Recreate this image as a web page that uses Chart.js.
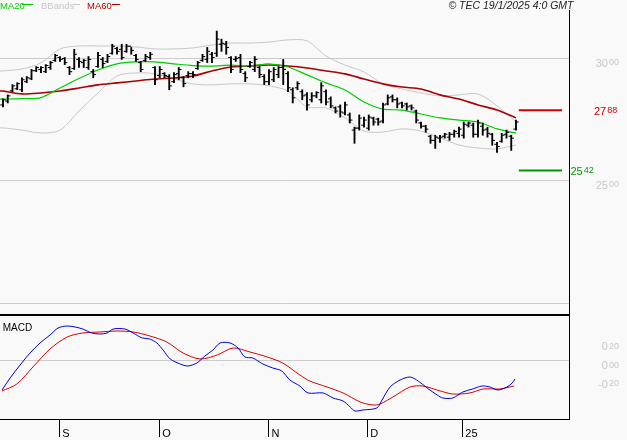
<!DOCTYPE html>
<html>
<head>
<meta charset="utf-8">
<script src="https://cdn.jsdelivr.net/npm/chart.js@4.4.1/dist/chart.umd.min.js"></script>
<style>
  html, body { margin: 0; padding: 0; background: #f9f9f9; }
  #wrap { position: relative; width: 627px; height: 440px; overflow: hidden; }
  #priceChart { position: absolute; left: 0; top: 0; }
  #macdChart { position: absolute; left: 0; top: 316px; }
</style>
</head>
<body>
<div id="wrap">
  <canvas id="priceChart" width="627" height="316"></canvas>
  <canvas id="macdChart" width="627" height="124"></canvas>
</div>
<script>
// daily bars, mid-Aug 2024 -> 17 Jan 2025 (one entry per session)
const openP = [28.10,28.26,28.68,28.76,28.72,29.05,29.17,29.50,29.55,29.46,
  29.63,29.92,30.04,30.00,29.63,29.59,29.96,29.83,29.63,29.46,
  29.67,29.96,29.88,30.21,30.41,30.37,30.29,30.50,30.12,29.83,
  29.92,30.04,29.63,29.30,29.38,29.26,29.05,29.38,29.21,29.30,
  29.38,29.59,29.92,29.96,30.17,30.21,30.58,30.58,30.04,29.96,
  30.04,29.38,29.67,29.55,29.63,29.26,29.05,29.13,29.34,29.63,
  29.38,28.72,28.80,28.64,28.51,28.31,28.47,28.31,28.64,28.35,
  27.98,28.02,27.77,27.69,27.07,27.15,27.27,27.15,27.56,27.52,
  27.44,28.14,28.43,28.31,28.18,28.14,28.06,27.85,27.36,27.23,
  26.82,26.65,26.74,26.82,26.78,26.90,26.94,26.86,27.27,27.27,
  26.90,27.23,27.11,26.90,26.49,26.61,26.90,26.82,27.11];
const highP = [28.35,28.51,28.93,29.01,29.21,29.26,29.55,29.67,29.67,29.75,
  29.88,30.17,30.08,30.04,29.67,30.37,30.04,29.96,30.08,29.55,
  30.25,30.04,30.17,30.58,30.45,30.58,30.58,30.45,30.17,29.88,
  30.17,30.25,29.67,29.67,29.42,29.34,29.42,29.63,29.26,29.46,
  29.46,29.88,30.17,30.45,30.25,31.12,30.79,30.70,30.08,30.08,
  30.17,29.46,29.88,30.08,29.67,29.34,29.55,29.63,29.67,29.96,
  29.46,28.80,29.05,28.72,28.60,28.60,28.64,29.01,28.72,28.43,
  28.02,28.10,28.22,27.77,27.19,27.69,27.60,27.69,27.60,27.56,
  28.18,28.51,28.51,28.39,28.22,28.18,28.10,27.89,27.40,27.27,
  26.86,26.86,26.86,26.94,26.98,27.07,27.19,27.40,27.40,27.36,
  27.48,27.36,27.19,26.94,26.57,26.94,27.07,26.86,27.48];
const lowP = [28.02,28.18,28.64,28.72,28.64,29.01,29.13,29.46,29.42,29.42,
  29.55,29.88,29.88,29.75,29.34,29.55,29.63,29.63,29.55,29.21,
  29.63,29.63,29.83,30.17,30.17,29.96,30.25,30.17,29.88,29.46,
  29.88,29.96,28.93,29.21,29.21,28.72,29.01,29.13,28.84,29.21,
  29.21,29.55,29.88,29.83,29.83,30.08,30.29,30.17,29.42,29.88,
  29.42,29.05,29.63,29.46,29.21,28.93,28.93,29.05,29.21,28.93,
  28.64,28.18,28.72,28.31,27.89,28.22,28.39,28.18,28.10,27.98,
  27.77,27.60,27.69,27.36,26.53,27.07,27.19,27.07,27.27,27.27,
  27.36,28.10,28.22,27.98,27.98,27.89,27.89,27.36,27.15,26.98,
  26.53,26.32,26.57,26.74,26.65,26.78,26.78,26.74,27.19,26.78,
  26.78,26.86,26.78,26.45,26.16,26.57,26.74,26.24,27.07];
const closeP = [28.31,28.47,28.88,28.97,29.13,29.21,29.50,29.63,29.63,29.71,
  29.83,30.12,29.96,29.83,29.46,30.17,29.88,29.92,29.96,29.34,
  30.12,29.79,30.08,30.50,30.29,30.04,30.50,30.33,29.96,29.55,
  30.08,30.17,29.13,29.55,29.30,28.88,29.34,29.55,28.97,29.38,
  29.34,29.83,30.08,30.29,30.04,30.79,30.62,30.45,29.55,30.00,
  29.55,29.21,29.83,29.96,29.34,29.05,29.46,29.55,29.63,29.55,
  28.80,28.39,28.97,28.47,28.10,28.47,28.60,28.88,28.22,28.06,
  27.85,27.81,28.10,27.48,27.15,27.56,27.48,27.60,27.40,27.40,
  28.10,28.39,28.31,28.14,28.06,28.02,27.98,27.48,27.23,27.11,
  26.65,26.78,26.78,26.90,26.90,27.02,27.11,27.31,27.36,26.90,
  27.36,27.07,26.94,26.65,26.40,26.86,26.98,26.74,27.40];

// overlay lines read every 4 sessions
const lineIdx = [-0.63,0,4,8,12,16,20,24,28,32,36,40,44,48,52,56,60,64,68,72,76,80,84,88,92,96,100,104,108];
const ma20 = [28.34,28.34,28.36,28.40,28.79,29.18,29.53,29.78,29.86,29.86,29.78,29.71,29.69,29.73,29.69,
  29.78,29.65,29.33,29.00,28.71,28.22,27.93,27.89,27.73,27.57,27.48,27.40,27.12,26.95];
const ma60 = [28.67,28.67,28.55,28.59,28.67,28.79,28.92,29.00,29.08,29.16,29.20,29.28,29.49,29.65,29.69,
  29.73,29.69,29.61,29.49,29.37,29.16,28.96,28.83,28.75,28.51,28.34,28.10,27.89,27.57];
const bbUpper = [29.49,29.49,29.57,29.82,30.39,30.51,30.51,30.51,30.47,30.39,30.39,30.43,30.55,30.63,30.63,
  30.67,30.76,30.72,30.10,29.73,29.45,28.96,28.75,28.59,28.47,28.51,28.55,28.06,27.40];
const bbLower = [27.16,27.16,27.07,26.95,27.07,27.85,28.59,29.28,29.41,29.37,29.16,28.96,28.92,28.96,28.96,
  28.88,28.67,28.02,27.98,27.57,27.03,26.99,27.12,27.03,26.75,26.46,26.34,26.30,26.46];

const resistance = 27.88;
const support = 25.42;
const levelFrom = 108.6, levelTo = 117.7;

const macdIdx = [-0.2,1.5,3.6,5.7,7.8,9.9,11.6,13.5,15.2,16.8,18.7,20.4,21.9,23.2,25.7,27.4,29.3,30.9,32.4,33.7,
  35.2,37.3,38.9,40.8,42.5,44.2,45.7,47.8,49.5,50.9,52.6,54.7,56.8,58.7,60.4,62.5,64.2,67.4,69.5,71.6,
  73.1,74.1,75.8,78.7,79.8,81.5,83.6,85.7,87.4,89.3,91.4,92.6,94.7,96.8,98.9,100.8,102.5,104.2,106.1,107.2,107.8];
const macdVal = [-0.316,-0.189,-0.053,0.074,0.179,0.263,0.337,0.358,0.347,0.326,0.284,0.274,0.284,0.326,0.326,
  0.284,0.232,0.221,0.179,0.105,0.011,-0.042,-0.063,-0.032,0.042,0.105,0.179,0.179,0.126,0.032,
  0.021,-0.042,-0.084,-0.116,-0.211,-0.274,-0.347,-0.347,-0.400,-0.432,-0.495,-0.537,-0.526,-0.505,-0.421,
  -0.284,-0.211,-0.179,-0.221,-0.295,-0.368,-0.400,-0.400,-0.337,-0.305,-0.274,-0.284,-0.316,-0.284,-0.242,-0.200];
const sigIdx = [-0.2,2.9,6.3,9.9,13.5,16.8,20.4,24.0,27.4,30.9,34.5,37.9,41.5,45.1,48.4,52.0,55.6,58.9,62.5,64.6,
  68.2,71.6,75.2,77.9,79.4,82.1,85.7,88.4,91.4,94.7,98.3,101.1,104.6,106.7,107.6];
const sigVal = [-0.326,-0.253,-0.074,0.116,0.242,0.284,0.295,0.305,0.295,0.253,0.189,0.074,0.011,0.053,0.126,
  0.084,0.032,-0.032,-0.158,-0.221,-0.284,-0.347,-0.442,-0.474,-0.463,-0.389,-0.284,-0.274,-0.316,-0.358,
  -0.347,-0.305,-0.305,-0.284,-0.274];

const monthPos = [11.85, 32.9, 55.9, 76.7, 96.7];
const monthLabels = ["S", "O", "N", "D", "25"];
const priceTicks = [20, 25, 30];
const priceLabels = [30, 25];
const macdLabels = [0.2, 0, -0.2];

const X_MIN = -0.63, X_MAX = 119.16;
const FONT = '"Liberation Sans", Arial, sans-serif';
const BG = "#f9f9f9";

function zip(xs, ys) {
  return xs.map((x, i) => ({ x: x, y: ys[i] }));
}

const hlData = highP.map((h, i) => ({ x: i, y: [lowP[i], h] }));
const openData = openP.map((v, i) => ({ x: i - 0.3, y: v }));
const closeData = closeP.map((v, i) => ({ x: i + 0.3, y: v }));

// "30 00" style label: integer part normal size, decimals smaller and raised
function drawSplitNumber(ctx, value, x, baseline, align, color) {
  const parts = Math.abs(value).toFixed(2).split(".");
  const big = (value < 0 ? "-" : "") + parts[0];
  const small = parts[1];
  ctx.font = "11px " + FONT;
  const wb = ctx.measureText(big).width;
  ctx.font = "9px " + FONT;
  const ws = ctx.measureText(small).width;
  const x0 = align === "right" ? x - wb - 1 - ws : x;
  ctx.fillStyle = color;
  ctx.textAlign = "left";
  ctx.textBaseline = "alphabetic";
  ctx.font = "11px " + FONT;
  ctx.fillText(big, x0, baseline);
  ctx.font = "9px " + FONT;
  ctx.fillText(small, x0 + wb + 1, baseline - 1.5);
}

const bgPlugin = {
  id: "bg",
  beforeDraw(chart) {
    const ctx = chart.ctx;
    ctx.save();
    ctx.fillStyle = BG;
    ctx.fillRect(0, 0, chart.width, chart.height);
    ctx.restore();
  }
};

const priceText = {
  id: "priceText",
  afterDraw(chart) {
    const ctx = chart.ctx;
    const y = chart.scales.y;
    ctx.save();

    // legend
    ctx.font = "9.5px " + FONT;
    ctx.textBaseline = "alphabetic";
    ctx.textAlign = "left";
    const legend = [
      { text: "MA20", color: "#00cc00", tx: 0, l1: 22, l2: 33 },
      { text: "BBands", color: "#c8c8c8", tx: 41, l1: 73, l2: 80 },
      { text: "MA60", color: "#aa0000", tx: 87, l1: 112, l2: 120 }
    ];
    legend.forEach(function (item) {
      ctx.fillStyle = item.color;
      ctx.fillText(item.text, item.tx, 8.5);
      ctx.strokeStyle = item.color;
      ctx.lineWidth = 1;
      ctx.beginPath();
      ctx.moveTo(item.l1, 4.5);
      ctx.lineTo(item.l2, 4.5);
      ctx.stroke();
    });

    // copyright
    ctx.fillStyle = BG;
    ctx.fillRect(445, 0, 132, 10);
    ctx.fillStyle = "#222";
    ctx.font = "italic 10.5px " + FONT;
    ctx.textAlign = "right";
    ctx.fillText("\u00a9 TEC 19/1/2025 4:0 GMT", 573.5, 8.5);

    // price axis labels
    priceLabels.forEach(function (v) {
      drawSplitNumber(ctx, v, 619, y.getPixelForValue(v) + 8.2, "right", "#c8c8c8");
    });
    drawSplitNumber(ctx, resistance, 594, y.getPixelForValue(resistance) + 4.7, "left", "#cc0000");
    drawSplitNumber(ctx, support, 570.5, y.getPixelForValue(support) + 4.5, "left", "#009900");
    ctx.restore();
  }
};

const macdText = {
  id: "macdText",
  afterDraw(chart) {
    const ctx = chart.ctx;
    const y = chart.scales.y;
    ctx.save();
    ctx.fillStyle = "#000";
    ctx.font = "10px " + FONT;
    ctx.textAlign = "left";
    ctx.textBaseline = "alphabetic";
    ctx.fillText("MACD", 2.7, 14.7);
    macdLabels.forEach(function (v) {
      drawSplitNumber(ctx, v, 619, y.getPixelForValue(v) + 9, "right", "#c8c8c8");
    });
    ctx.restore();
  }
};

new Chart(document.getElementById("priceChart"), {
  type: "bar",
  data: {
    datasets: [
      { type: "scatter", data: openData, pointStyle: "line", pointRadius: 1.3, borderColor: "#000", borderWidth: 1 },
      { type: "scatter", data: closeData, pointStyle: "line", pointRadius: 1.3, borderColor: "#000", borderWidth: 1 },
      { type: "bar", data: hlData, backgroundColor: "#000", barThickness: 1.2 },
      { type: "line", data: [{ x: levelFrom, y: resistance }, { x: levelTo, y: resistance }], borderColor: "#cc0000", borderWidth: 2, pointRadius: 0 },
      { type: "line", data: [{ x: levelFrom, y: support }, { x: levelTo, y: support }], borderColor: "#009900", borderWidth: 2, pointRadius: 0 },
      { type: "line", label: "MA20", data: zip(lineIdx, ma20), borderColor: "#00cc00", borderWidth: 1.2, pointRadius: 0, tension: 0.3 },
      { type: "line", label: "MA60", data: zip(lineIdx, ma60), borderColor: "#aa0000", borderWidth: 1.6, pointRadius: 0, tension: 0.3 },
      { type: "line", label: "BBands", data: zip(lineIdx, bbUpper), borderColor: "#c8c8c8", borderWidth: 1, pointRadius: 0, tension: 0.3 },
      { type: "line", label: "BBands", data: zip(lineIdx, bbLower), borderColor: "#c8c8c8", borderWidth: 1, pointRadius: 0, tension: 0.3 }
    ]
  },
  options: {
    responsive: false,
    animation: false,
    devicePixelRatio: 1,
    layout: { autoPadding: false, padding: { left: 0, right: 58, top: 0, bottom: 1 } },
    plugins: { legend: { display: false }, tooltip: { enabled: false } },
    scales: {
      x: {
        type: "linear",
        min: X_MIN,
        max: X_MAX,
        offset: false,
        ticks: { display: false },
        grid: { display: false, drawTicks: false, offset: false },
        border: { display: true, color: "#000", width: 2 },
        afterFit: function (s) { s.height = 0; }
      },
      y: {
        min: 19.51,
        max: 32.39,
        position: "right",
        ticks: { display: false },
        grid: { color: "#cccccc", drawTicks: false },
        border: { display: true, color: "#000", width: 1 },
        afterFit: function (s) { s.width = 0; },
        afterBuildTicks: function (s) { s.ticks = priceTicks.map(v => ({ value: v })); }
      }
    }
  },
  plugins: [bgPlugin, priceText]
});

new Chart(document.getElementById("macdChart"), {
  type: "line",
  data: {
    datasets: [
      { label: "MACD", data: zip(macdIdx, macdVal), borderColor: "#0000dd", borderWidth: 1, pointRadius: 0, tension: 0.3 },
      { label: "Signal", data: zip(sigIdx, sigVal), borderColor: "#dd0000", borderWidth: 1, pointRadius: 0, tension: 0.3 }
    ]
  },
  options: {
    responsive: false,
    animation: false,
    devicePixelRatio: 1,
    layout: { autoPadding: false, padding: { left: 0, right: 58, top: 0, bottom: 0 } },
    plugins: { legend: { display: false }, tooltip: { enabled: false } },
    scales: {
      x: {
        type: "linear",
        min: X_MIN,
        max: X_MAX,
        position: "bottom",
        border: { display: true, color: "#000", width: 1 },
        grid: { drawOnChartArea: false, drawTicks: true, tickLength: 18, color: "#000" },
        ticks: {
          autoSkip: false,
          maxRotation: 0,
          padding: -10,
          align: "start",
          labelOffset: 3,
          color: "#000",
          font: { size: 11, family: FONT },
          callback: function (value, index) { return monthLabels[index]; }
        },
        afterBuildTicks: function (s) { s.ticks = monthPos.map(v => ({ value: v })); },
        afterFit: function (s) { s.height = 21; }
      },
      y: {
        min: -0.6211,
        max: 0.4632,
        position: "right",
        ticks: { display: false },
        grid: { color: "#cccccc", drawTicks: false },
        border: { display: true, color: "#000", width: 1 },
        afterFit: function (s) { s.width = 0; },
        afterBuildTicks: function (s) { s.ticks = [{ value: 0 }]; }
      }
    }
  },
  plugins: [bgPlugin, macdText]
});
</script>
</body>
</html>
